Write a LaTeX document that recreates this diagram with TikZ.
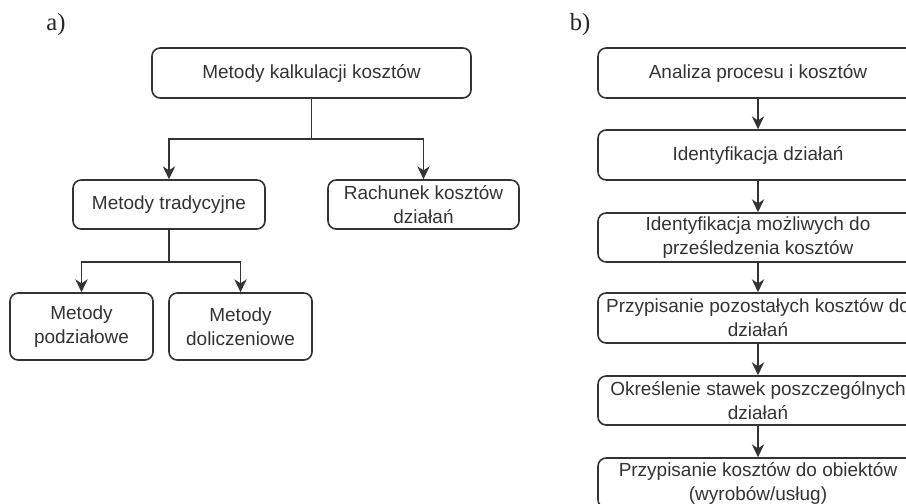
\documentclass[tikz,border=0pt]{standalone}
\usepackage{fontspec}
\setmainfont{Liberation Sans}
\newfontfamily\panelfont{Liberation Serif}
\usetikzlibrary{arrows.meta}

\begin{document}
\begin{tikzpicture}[x=0.03cm,y=-0.03cm,
	box/.style={draw=black!80,line width=1.4pt,rounded corners=7pt,align=center,
		text=black!80,inner sep=0pt,font=\fontsize{16.2}{20.5}\selectfont},
	link/.style={draw=black!80,line width=1.4pt},
	arr/.style={link,-{Stealth[length=11pt,width=10.5pt,inset=3.5pt]}},
	panel/.style={font=\panelfont\fontsize{21}{21}\selectfont,text=black!85}]

	\useasboundingbox (0,0) rectangle (906,503);
	\clip (0,0) rectangle (906,503);

	% a)
	\node[panel] (pa) at (56,25) {a)};
	\node[box,minimum width=9.57cm,minimum height=1.5cm] (kalk) at (311.5,73) {Metody kalkulacji kosztów};
	\node[box,minimum width=5.76cm,minimum height=1.47cm] (trad) at (169,204.5) {Metody tradycyjne};
	\node[box,minimum width=5.73cm,minimum height=1.47cm] (abc) at (423.5,204.5) {Rachunek kosztów\\działań};
	\node[box,minimum width=4.29cm,minimum height=2.01cm] (podz) at (81.5,326.5) {Metody\\podziałowe};
	\node[box,minimum width=4.29cm,minimum height=2.01cm] (dolicz) at (240.5,326.5) {Metody\\doliczeniowe};
	% split
	\coordinate (s1) at (311.5,139);
	\coordinate (s2) at (169,262);
	\draw[link] (kalk) -- (s1);
	\draw[arr] (s1) -| (trad);
	\draw[arr] (s1) -| (abc);
	\draw[link] (trad) -- (s2);
	\draw[arr] (s2) -| (podz);
	\draw[arr] (s2) -| (dolicz);

	% b)
	\node[panel] (pb) at (580,25) {b)};
	\node[box,minimum width=9.6cm,minimum height=1.5cm] (r1) at (758,73) {Analiza procesu i kosztów};
	\node[box,minimum width=9.6cm,minimum height=1.5cm] (r2) at (758,155) {Identyfikacja działań};
	\node[box,minimum width=9.6cm,minimum height=1.47cm] (r3) at (758,237.5) {Identyfikacja możliwych do\\prześledzenia kosztów};
	\node[box,minimum width=9.6cm,minimum height=1.5cm] (r4) at (758,318) {Przypisanie pozostałych kosztów do\\działań};
	\node[box,minimum width=9.6cm,minimum height=1.47cm] (r5) at (758,400.5) {Określenie stawek poszczególnych\\działań};
	\node[box,minimum width=9.6cm,minimum height=1.5cm] (r6) at (758,483) {Przypisanie kosztów do obiektów\\(wyrobów/usług)};
	% |
	\foreach \a/\b in {r1/r2,r2/r3,r3/r4,r4/r5,r5/r6}
		\draw[arr] (\a) -- (\b);
\end{tikzpicture}
\end{document}
